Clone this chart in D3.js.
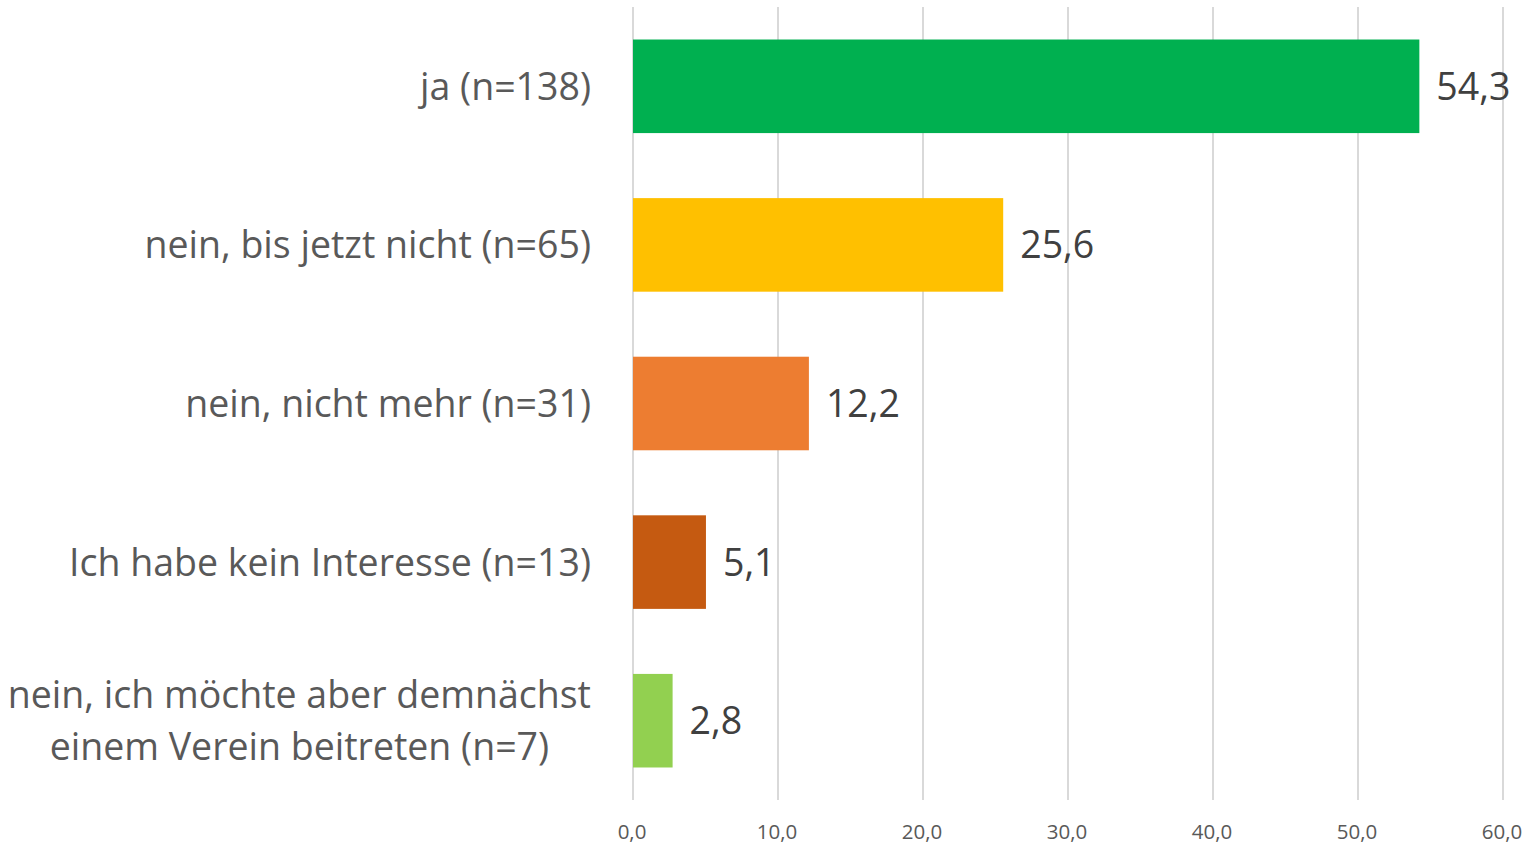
<!DOCTYPE html>
<meta charset="utf-8">
<style>
body {
  margin: 0;
  background-color: #ffffff;
}
.grid line {
  stroke: #D9D9D9;
  stroke-width: 2px;
  shape-rendering: crispEdges;
}
.grid path { display: none; }
.tick-label {
  font-family: "Open Sans", Lato, sans-serif;
  font-size: 20.5px;
  fill: #595959;
}
.cat-label {
  font-family: "Open Sans", Lato, sans-serif;
  font-size: 37.5px;
  fill: #595959;
}
.val-label {
  font-family: "Open Sans", Lato, sans-serif;
  font-size: 37.5px;
  fill: #404040;
}
</style>
<svg width="1532" height="845"></svg>
<script src="https://d3js.org/d3.v7.min.js"></script>
<script>
var categories = [
  "ja (n=138)",
  "nein, bis jetzt nicht (n=65)",
  "nein, nicht mehr (n=31)",
  "Ich habe kein Interesse (n=13)",
  "nein, ich möchte aber demnächst|einem Verein beitreten (n=7)"
];
var values = [54.3, 25.6, 12.2, 5.1, 2.8];
var colors = ["#00B050", "#FFC000", "#ED7D31", "#C55A11", "#92D050"];
var ticks = [0, 10, 20, 30, 40, 50, 60];

var svg = d3.select("svg"),
    margin = {top: 7, right: 30, bottom: 45, left: 632},
    width = +svg.attr("width") - margin.left - margin.right,
    height = +svg.attr("height") - margin.top - margin.bottom;

var fmt = function(v) { return d3.format(".1f")(v).replace(".", ","); };

var x = d3.scaleLinear().domain([0, 60]).range([0, width]);
var y = d3.scaleBand().domain(categories).range([0, height]).paddingInner(0.41).paddingOuter(0.205);

var g = svg.append("g")
    .attr("transform", "translate(" + margin.left + "," + margin.top + ")");

// vertical gridlines
g.append("g")
    .attr("class", "grid")
    .call(d3.axisBottom(x).tickValues(ticks).tickSize(height).tickFormat(""));

g.selectAll(".tick-label")
    .data(ticks)
  .enter().append("text")
    .attr("class", "tick-label")
    .attr("x", function(d) { return x(d); })
    .attr("y", height + 39)
    .attr("text-anchor", "middle")
    .text(fmt);

g.selectAll(".bar")
    .data(values)
  .enter().append("rect")
    .attr("class", "bar")
    .attr("x", x(0) + 1)
    .attr("y", function(d, i) { return y(categories[i]); })
    .attr("width", function(d) { return x(d) - 1; })
    .attr("height", y.bandwidth())
    .attr("fill", function(d, i) { return colors[i]; });

g.selectAll(".val-label")
    .data(values)
  .enter().append("text")
    .attr("class", "val-label")
    .attr("x", function(d) { return x(d) + 17; })
    .attr("y", function(d, i) { return y(categories[i]) + y.bandwidth() / 2; })
    .attr("dy", "0.36em")
    .text(fmt);

// category labels, right aligned; wrapped lines centered on the longest one
categories.forEach(function(c) {
  var lines = c.split("|");
  var cy = y(c) + y.bandwidth() / 2;
  var t = g.append("text")
      .attr("class", "cat-label")
      .attr("text-anchor", lines.length > 1 ? "middle" : "end");
  var lh = 52;
  lines.forEach(function(l, j) {
    t.append("tspan")
      .attr("y", cy + (j - (lines.length - 1) / 2) * lh)
      .attr("dy", "0.36em")
      .text(l);
  });
  if (lines.length > 1) {
    var w = d3.max(t.selectAll("tspan").nodes(), function(n) { return n.getComputedTextLength(); });
    t.selectAll("tspan").attr("x", -41 - w / 2);
  } else {
    t.selectAll("tspan").attr("x", -41);
  }
});
</script>
